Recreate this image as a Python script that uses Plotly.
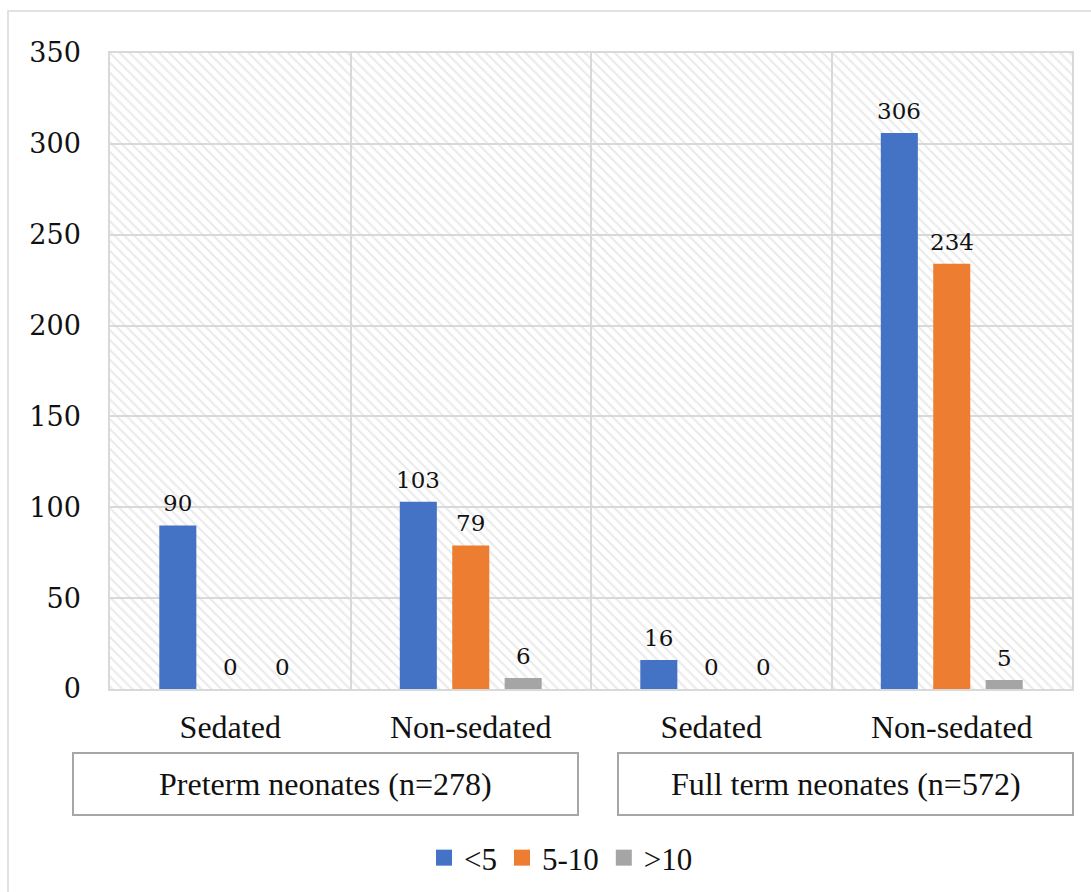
import plotly.graph_objects as go

# Categories (sedation status within each gestational group)
categories = ["Sedated", "Non-sedated", "Sedated", "Non-sedated"]
groups = ["Preterm neonates (n=278)", "Full term neonates (n=572)"]

# Counts per duration class
series_names = ["<5", "5-10", ">10"]
vals_lt5 = [90, 103, 16, 306]
vals_5_10 = [0, 79, 0, 234]
vals_gt10 = [0, 6, 0, 5]
series_values = [vals_lt5, vals_5_10, vals_gt10]
colors = ["#4472C4", "#ED7D31", "#A5A5A5"]

y_ticks = [0, 50, 100, 150, 200, 250, 300, 350]

W, H = 1091, 892
ML, MR, MT, MB = 110, 19, 53, 203
pw, ph = W - ML - MR, H - MT - MB


def px_x(px):
    """pixel column -> paper x"""
    return (px - ML) / pw


def px_y(py):
    """pixel row -> paper y"""
    return (MT + ph - py) / ph


bar_w = 0.154          # bar width in category units
slot = 0.218           # distance between bar centres within a group
centres = [-slot, 0.0, slot]

xs = list(range(len(categories)))

fig = go.Figure()

# hatched plot background
fig.add_trace(go.Bar(
    x=[1.5], y=[350], width=[4], base=[0],
    marker=dict(color="rgba(255,255,255,0)",
                line=dict(width=0),
                pattern=dict(shape="\\", size=7, solidity=0.3,
                             fgcolor="#d6d6d6", bgcolor="rgba(255,255,255,0)")),
    showlegend=False, hoverinfo="skip",
))

for name, vals, col, c in zip(series_names, series_values, colors, centres):
    fig.add_trace(go.Bar(
        x=xs, y=vals, name=name, showlegend=False,
        width=[bar_w] * len(xs), offset=c - bar_w / 2,
        marker=dict(color=col, line=dict(width=0)),
    ))
    # legend swatch
    fig.add_trace(go.Scatter(
        x=[None], y=[None], name=name, mode="markers",
        marker=dict(symbol="square", size=16, color=col),
    ))
    for xi, v in zip(xs, vals):
        fig.add_annotation(
            x=xi + c, y=v, xref="x", yref="y", text=str(v),
            showarrow=False, yanchor="bottom", yshift=7,
            font=dict(family="DejaVu Serif", size=23, color="#111111"),
        )

# group boxes under the category labels
box_px = [(73, 578), (618, 1073)]
by0, by1 = px_y(815), px_y(753)
for (x0, x1), label in zip(box_px, groups):
    fig.add_shape(type="rect", xref="paper", yref="paper",
                  x0=px_x(x0), x1=px_x(x1), y0=by0, y1=by1,
                  line=dict(color="#a6a6a6", width=2),
                  fillcolor="rgba(0,0,0,0)", layer="above")
    fig.add_annotation(x=px_x((x0 + x1) / 2), y=(by0 + by1) / 2,
                       xref="paper", yref="paper", xanchor="center", yanchor="middle",
                       text=label, showarrow=False,
                       font=dict(family="Liberation Serif", size=32, color="#111111"))

# outer chart border
fig.add_shape(type="rect", xref="paper", yref="paper",
              x0=px_x(8), x1=1.2, y0=-0.5, y1=px_y(11),
              line=dict(color="#d9d9d9", width=1.5), fillcolor="rgba(0,0,0,0)",
              layer="above")

fig.update_layout(
    width=W, height=H,
    margin=dict(l=ML, r=MR, t=MT, b=MB, autoexpand=False),
    paper_bgcolor="white", plot_bgcolor="white",
    barmode="overlay",
    showlegend=True,
    legend=dict(orientation="h", x=px_x(561), xanchor="center",
                y=px_y(858), yanchor="middle",
                font=dict(family="Liberation Serif", size=31, color="#111111"),
                itemwidth=30, traceorder="normal"),
    xaxis=dict(
        range=[-0.5, 3.5], tickmode="array", tickvals=xs, ticktext=categories,
        showgrid=False, zeroline=False, automargin=False,
        showline=True, mirror=True, linecolor="#d9d9d9", linewidth=1.5,
        ticks="", ticklabelstandoff=9,
        tickfont=dict(family="Liberation Serif", size=32, color="#111111"),
        minor=dict(tickvals=[0.5, 1.5, 2.5], showgrid=True,
                   gridcolor="#d9d9d9", gridwidth=1.5, ticks=""),
    ),
    yaxis=dict(
        range=[0, 350], tickmode="array", tickvals=y_ticks,
        showgrid=True, gridcolor="#d9d9d9", gridwidth=1.5, zeroline=False,
        automargin=False,
        showline=True, mirror=True, linecolor="#d9d9d9", linewidth=1.5,
        ticks="", ticklabelstandoff=22,
        tickfont=dict(family="DejaVu Serif", size=27, color="#111111"),
    ),
)

fig.write_html("out.html")
